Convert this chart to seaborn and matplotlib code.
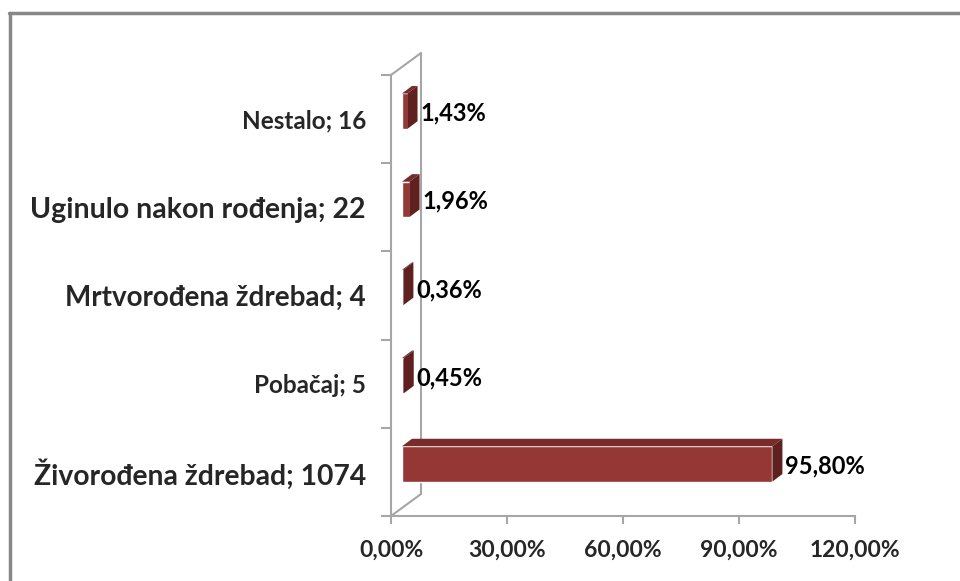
import matplotlib
matplotlib.use("Agg")
import matplotlib.pyplot as plt
import seaborn as sns
import numpy as np
from matplotlib.lines import Line2D
from matplotlib.patches import Polygon
from matplotlib.ticker import FixedLocator, FuncFormatter

categories = ['Nestalo', 'Uginulo nakon rođenja', 'Mrtvorođena ždrebad', 'Pobačaj', 'Živorođena ždrebad']
counts = [16, 22, 4, 5, 1074]
percents = [1.43, 1.96, 0.36, 0.45, 95.80]
label_sizes = [17.5, 20.5, 20, 17.5, 20.3]
x_ticks = [0, 30, 60, 90, 120]

front_col = '#953735'
top_col = '#772b2a'
side_col = '#5f2120'
wall_col = '#a6a6a6'

sns.set_style('white')
plt.rcParams['font.family'] = ['Lato', 'DejaVu Sans']
plt.rcParams['font.weight'] = 'bold'

fig = plt.figure(figsize=(9.6, 5.81), dpi=100)
L, R, T, B = 391, 855, 75, 516
ax = fig.add_axes([L / 960, 1 - B / 581, (R - L) / 960, (B - T) / 581])

ylabels = [f'{c}; {n}' for c, n in zip(categories, counts)]
sns.barplot(x=percents, y=ylabels, orient='h', color=front_col, saturation=1,
            width=0.4, ax=ax, zorder=3)
ax.set_xlim(0, 120)
ax.set_ylim(4.5, -0.5)

# pixel -> data units
px_x = 120 / (R - L)
px_y = 5 / (B - T)

def off(dx, dy):
    return dx * px_x, -dy * px_y

fdx, fdy = off(11, 8)
bdx, bdy = off(21, 15.5)

for p in ax.patches:
    x0, y0 = p.get_x(), p.get_y()
    w, h = p.get_width(), p.get_height()
    p.set_x(x0 + fdx)
    p.set_y(y0 + fdy)
    p.set_clip_on(False)
    x1 = x0 + w
    ytop = y0  # inverted axis: smaller y is visually higher
    ybot = y0 + h
    top = Polygon([(x0 + fdx, ytop + fdy), (x1 + fdx, ytop + fdy),
                   (x1 + bdx, ytop + bdy), (x0 + bdx, ytop + bdy)],
                  closed=True, facecolor=top_col, edgecolor='none', zorder=3, clip_on=False)
    side = Polygon([(x1 + fdx, ybot + fdy), (x1 + bdx, ybot + bdy),
                    (x1 + bdx, ytop + bdy), (x1 + fdx, ytop + fdy)],
                   closed=True, facecolor=side_col, edgecolor='none', zorder=3, clip_on=False)
    ax.add_patch(top)
    ax.add_patch(side)

# data labels
lx, ly = off(24, 6)
for i, v in enumerate(percents):
    ax.text(v + lx, i + ly, f'{v:.2f}%'.replace('.', ','), ha='left', va='center',
            fontsize=17, fontweight='bold', color='black', clip_on=False, zorder=4)

# 3D walls
wdx, wdy = off(30, 22)
wall_kw = dict(color=wall_col, lw=1.5, clip_on=False, zorder=1)
ax.add_line(Line2D([wdx, wdx], [-0.5 + wdy, 4.5 + wdy], **wall_kw))
ax.add_line(Line2D([0, wdx], [-0.5, -0.5 + wdy], **wall_kw))
ax.add_line(Line2D([0, wdx], [4.5, 4.5 + wdy], **wall_kw))

sns.despine(ax=ax, top=True, right=True)
for s in ['left', 'bottom']:
    ax.spines[s].set_color(wall_col)
    ax.spines[s].set_linewidth(1.5)

ax.set_xticks(x_ticks)
ax.xaxis.set_major_formatter(FuncFormatter(lambda v, _: f'{v:.2f}%'.replace('.', ',')))
ax.tick_params(axis='x', direction='out', length=6, width=1.5, color=wall_col,
               labelsize=16.5, pad=11, bottom=True)
for t in ax.get_xticklabels():
    t.set_fontweight('bold')

ax.yaxis.set_minor_locator(FixedLocator(np.arange(-0.5, 5, 1)))
ax.tick_params(axis='y', which='minor', direction='out', length=7, width=1.5,
               color=wall_col, left=True)
ax.tick_params(axis='y', which='major', length=0, pad=18)
for t, s in zip(ax.get_yticklabels(), label_sizes):
    t.set_fontsize(s)
    t.set_fontweight('bold')
ax.set_xlabel('')
ax.set_ylabel('')
ax.grid(False)

# outer chart border
bcol = '#878787'
fig.add_artist(Line2D([9.5 / 960, 9.5 / 960], [0, 1 - 13 / 581], color=bcol, lw=2.5,
                      transform=fig.transFigure))
fig.add_artist(Line2D([8.5 / 960, 1], [1 - 13 / 581, 1 - 13 / 581], color=bcol, lw=2.5,
                      transform=fig.transFigure))

fig.savefig('out.png', dpi=100, facecolor='white')
